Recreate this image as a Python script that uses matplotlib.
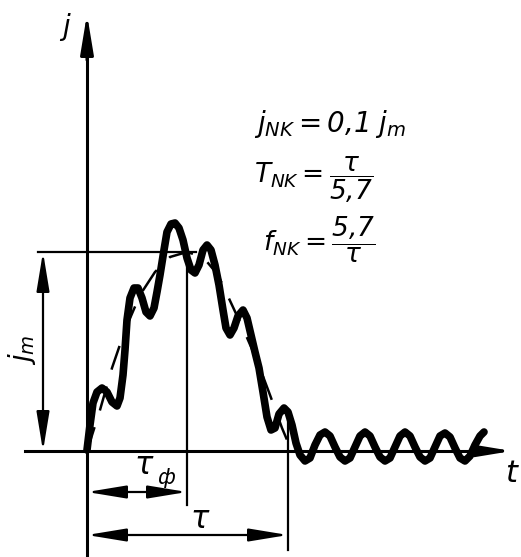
import matplotlib
matplotlib.use('Agg')
import matplotlib.pyplot as plt
from matplotlib import rcParams

rcParams['font.family'] = 'DejaVu Sans'
rcParams['mathtext.fontset'] = 'custom'
rcParams['mathtext.it'] = 'DejaVu Sans:italic'
rcParams['mathtext.rm'] = 'DejaVu Sans:italic'

""" schematic: noisy current pulse j(t), coordinates read off the drawing (pixels) """

# thick wavy pulse
curve_x = [87, 90, 93, 97, 102, 107, 112, 117, 120, 123, 125, 127, 130, 134, 138, 142, 146, 150,
           154, 157, 160, 164, 167, 171, 175, 179, 183, 187, 191, 195, 199, 203, 207, 211, 215,
           219, 223, 226, 230, 234, 238, 243, 247, 251, 255, 259, 263, 267, 271, 275, 279, 284,
           288, 292, 296, 300, 305, 310, 315, 320, 325, 330, 335, 340, 345, 350, 355, 360, 365,
           370, 375, 380, 385, 390, 395, 400, 405, 410, 415, 420, 425, 430, 435, 440, 445, 450,
           455, 460, 465, 470, 475, 480, 484]
curve_y = [450, 425, 403, 392, 388, 392, 402, 406, 398, 375, 350, 320, 298, 288, 288, 298, 312, 316,
           308, 292, 275, 250, 232, 224, 223, 228, 240, 258, 270, 273, 265, 250, 245, 250, 265,
           285, 310, 328, 335, 328, 316, 310, 318, 335, 352, 368, 392, 417, 430, 428, 414, 408,
           412, 425, 443, 455, 461, 458, 445, 435, 432, 436, 447, 457, 461, 458, 447, 436, 432,
           436, 447, 457, 461, 458, 447, 436, 432, 436, 447, 457, 461, 458, 447, 436, 433, 437,
           448, 458, 461, 456, 445, 436, 432]

# dashed envelope
env_x = [87, 100, 112, 125, 140, 155, 170, 187, 203, 218, 232, 245, 258, 270, 282, 290]
env_y = [451, 410, 368, 330, 295, 272, 257, 252, 257, 275, 305, 333, 363, 395, 428, 447]

# reference levels / marks
x0 = 87        # t = 0
x_front = 187  # tau_f
x_tau = 288    # tau
y0 = 451       # j = 0
y_m = 252      # j = j_m


def arrow(ax, p1, p2, style='<|-|>', lw=1.6, scale=14):
    ax.annotate('', xy=p2, xytext=p1,
                arrowprops=dict(arrowstyle=style + ',head_length=1.7,head_width=0.28',
                                mutation_scale=scale, lw=lw, color='k',
                                shrinkA=0, shrinkB=0))


def main():
    fig = plt.figure(figsize=(5.21, 5.57), dpi=100)
    ax = fig.add_axes([0, 0, 1, 1])
    ax.set_xlim(0, 521)
    ax.set_ylim(557, 0)
    ax.axis('off')

    # axes
    ax.plot([x0, x0], [555, 40], color='k', lw=2.2)
    arrow(ax, (x0, 60), (x0, 14), style='-|>', lw=2.2, scale=14)
    ax.plot([25, 490], [y0, y0], color='k', lw=2.2)
    arrow(ax, (480, y0), (512, y0), style='-|>', lw=2.2, scale=12)
    ax.text(66, 27, 'j', fontsize=20, style='italic', ha='center', va='center')
    ax.text(511, 474, 't', fontsize=22, style='italic', ha='center', va='center')

    # extension lines
    ax.plot([38, 196], [y_m, y_m], color='k', lw=1.6)
    ax.plot([x_front, x_front], [y_m, 505], color='k', lw=1.6)
    ax.plot([x_tau, x_tau], [420, 550], color='k', lw=1.6)

    # dimensions
    arrow(ax, (43, y_m), (43, y0))
    ax.text(22, 350, '$j_m$', fontsize=20, rotation=90, ha='center', va='center')
    arrow(ax, (x0, 492), (x_front, 492))
    ax.text(144, 465, r'$\tau$', fontsize=22, ha='center', va='center')
    ax.text(166, 478, 'ф', fontsize=15, style='italic', ha='center', va='center')
    arrow(ax, (x0, 535), (x_tau, 535))
    ax.text(200, 520, r'$\tau$', fontsize=22, ha='center', va='center')

    # curves
    ax.plot(env_x, env_y, color='k', lw=1.8, dashes=(10, 7))
    ax.plot(curve_x, curve_y, color='k', lw=5.5, solid_joinstyle='round', solid_capstyle='round')

    # formulas
    ax.text(254, 124, r'$j_{NK} = 0{,}1\;j_m$', fontsize=20, ha='left', va='center')
    ax.text(254, 180, r'$T_{NK} = \dfrac{\tau}{5{,}7}$', fontsize=19, ha='left', va='center')
    ax.text(263, 240, r'$f_{NK} = \dfrac{5{,}7}{\tau}$', fontsize=19, ha='left', va='center')

    plt.savefig('out.png', dpi=100)


if __name__ == "__main__":
    main()
